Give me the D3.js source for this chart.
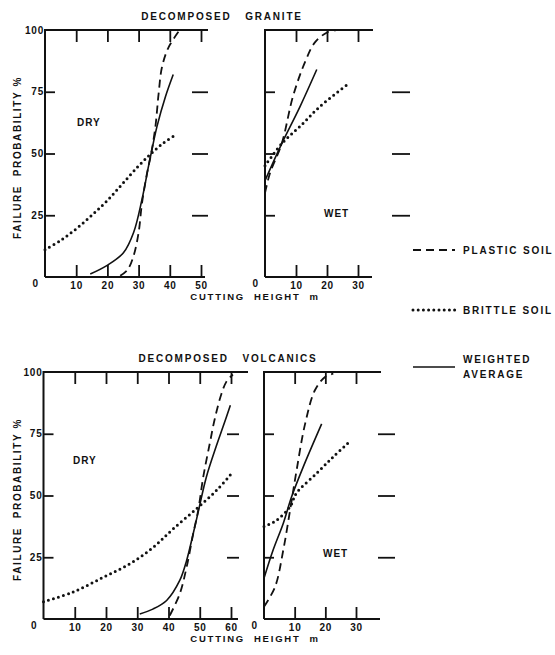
<!DOCTYPE html>
<html>
<head>
<meta charset="utf-8">
<script src="https://cdn.jsdelivr.net/npm/d3@7"></script>
<style>
    body { margin: 0; background: #fff; }
    text { font-family: 'Liberation Sans', Arial, sans-serif; font-weight: bold; fill: #111; }
</style>
</head>
<body>
<div id="chart"></div>
<script>
const width = 555;
const height = 655;
const ink = '#111';

// readings: [cutting height m, failure probability %]
const graniteDryPlastic = [[24.1, 0.5], [26.5, 3], [28.4, 8.6], [30, 18], [31.1, 30], [32.7, 42], [34.1, 50.5], [35.4, 61], [36.4, 74], [37.5, 85], [39.6, 93], [42.9, 99.5]];
const graniteDryBrittle = [[0, 11], [5, 14.8], [10, 19.5], [15, 25], [20, 31], [25, 38], [30, 45], [34, 50], [38, 54.3], [42, 57.7]];
const graniteDryWeighted = [[14.5, 1.2], [19.8, 4.6], [25.2, 9.9], [28.4, 18], [31.1, 31.5], [33.2, 45], [34.1, 50.5], [35.9, 61], [38.6, 73], [41.1, 82]];

const graniteWetPlastic = [[0, 34], [1.6, 42], [5.4, 54], [9, 73], [12.9, 87], [16.1, 95], [20, 99], [23, 100]];
const graniteWetBrittle = [[0, 45], [5.4, 54], [11.3, 61], [17.7, 69], [26.7, 78]];
const graniteWetWeighted = [[0, 39], [5.4, 54], [11.3, 69], [16.7, 84]];

const volcanicsDryPlastic = [[40.4, 1.4], [43.6, 10.2], [45.8, 21], [47.9, 34.5], [49.5, 44], [51.1, 57.4], [53.2, 71], [54.8, 81], [56.9, 91], [58.5, 96], [60.6, 99]];
const volcanicsDryBrittle = [[0, 7], [9.5, 10.9], [19.1, 16.9], [27.6, 22.3], [35.1, 29], [41.5, 36.5], [48.9, 44.6], [55.3, 52], [60.1, 58.8]];
const volcanicsDryWeighted = [[30.8, 2], [35, 4], [39.4, 7.5], [43.6, 15.6], [45.8, 23.7], [47.9, 34.5], [49.8, 45], [52.1, 57.4], [55.3, 70], [57.5, 78], [59.8, 86.5]];

const volcanicsWetPlastic = [[0, 5], [3.6, 13], [6.3, 28], [8.5, 44], [10.6, 60], [13.4, 79], [16.6, 92.6], [19.9, 98], [22.6, 99.3]];
const volcanicsWetBrittle = [[0, 37.4], [4.1, 40], [8.5, 45.5], [10.6, 51], [17.2, 59], [22.6, 65.7], [27.8, 71.7]];
const volcanicsWetWeighted = [[0, 16.5], [3, 28], [6.3, 38.8], [9, 49.5], [12.8, 61.6], [18.8, 79]];

const probTicks = [25, 50, 75];
const probLabels = [25, 50, 75, 100];
const graniteDryTicks = [10, 20, 30, 40, 50];
const volcanicsDryTicks = [10, 20, 30, 40, 50, 60];
const wetTicks = [10, 20, 30];

const rows = [
    { title: 'DECOMPOSED   GRANITE', top: 30, bottom: 277, titleX: 222 },
    { title: 'DECOMPOSED   VOLCANICS', top: 372, bottom: 619, titleX: 228 },
];

const panels = [
    { row: 0, max: 50, x0: 45, x1: 201, topEnd: 208, bottomEnd: 205, ticks: graniteDryTicks, labels: true,
      side: [192, 208], tag: 'DRY', tagX: 77, tagY: 126,
      plastic: graniteDryPlastic, brittle: graniteDryBrittle, weighted: graniteDryWeighted },
    { row: 0, max: 30, x0: 265, x1: 358, topEnd: 373, bottomEnd: 372, ticks: wetTicks, labels: false,
      side: [392, 410], tag: 'WET', tagX: 324, tagY: 217,
      plastic: graniteWetPlastic, brittle: graniteWetBrittle, weighted: graniteWetWeighted },
    { row: 1, max: 60, x0: 43.5, x1: 231, topEnd: 248, bottomEnd: 238, ticks: volcanicsDryTicks, labels: true,
      side: [227, 239], tag: 'DRY', tagX: 73, tagY: 464,
      plastic: volcanicsDryPlastic, brittle: volcanicsDryBrittle, weighted: volcanicsDryWeighted },
    { row: 1, max: 30, x0: 264, x1: 356, topEnd: 381, bottomEnd: 380, ticks: wetTicks, labels: false,
      side: [378, 395], tag: 'WET', tagX: 323, tagY: 557,
      plastic: volcanicsWetPlastic, brittle: volcanicsWetBrittle, weighted: volcanicsWetWeighted },
];

const styles = {
    plastic: { width: 1.8, dash: '8,5', cap: 'butt' },
    brittle: { width: 3, dash: '0,5.2', cap: 'round' },
    weighted: { width: 1.6, dash: null, cap: 'butt' },
};

const svg = d3
    .select('#chart')
    .append('svg')
    .attr('width', width)
    .attr('height', height)
    .style('background-color', 'white');

rows.forEach((row) => {
    svg.append('text')
        .attr('x', row.titleX)
        .attr('y', row.top - 10)
        .attr('text-anchor', 'middle')
        .attr('font-size', '10px')
        .style('letter-spacing', '1.8px')
        .style('white-space', 'pre')
        .text(row.title);

    svg.append('text')
        .attr('x', 255)
        .attr('y', row.bottom + 23)
        .attr('text-anchor', 'middle')
        .attr('font-size', '9.5px')
        .style('letter-spacing', '1.8px')
        .style('white-space', 'pre')
        .text('CUTTING  HEIGHT  m');

    svg.append('text')
        .attr('transform', `translate(21, ${(row.top + row.bottom) / 2 + 4}) rotate(-90)`)
        .attr('text-anchor', 'middle')
        .attr('font-size', '10px')
        .style('letter-spacing', '1.6px')
        .style('white-space', 'pre')
        .text('FAILURE  PROBABILITY %');
});

panels.forEach((p) => {
    const row = rows[p.row];
    const x = d3.scaleLinear().domain([0, p.max]).range([p.x0, p.x1]);
    const y = d3.scaleLinear().domain([0, 100]).range([row.bottom, row.top]);
    const g = svg.append('g');

    // frame: left axis, top and bottom lines
    g.append('path')
        .attr('d', `M${x(0)},${y(0)}V${y(100)}H${p.topEnd}M${x(0)},${y(0)}H${p.bottomEnd}`)
        .attr('fill', 'none')
        .attr('stroke', ink)
        .attr('stroke-width', 2);

    g.append('g')
        .attr('transform', `translate(0, ${y(0)})`)
        .call(
            d3.axisBottom(x)
                .tickValues(p.ticks)
                .tickSize(-12)
                .tickPadding(5)
                .tickFormat(d3.format('d'))
        );

    g.append('g')
        .attr('transform', `translate(0, ${y(100)})`)
        .call(d3.axisTop(x).tickValues(p.ticks).tickSize(-12).tickFormat(''));

    g.append('g')
        .attr('transform', `translate(${x(0)}, 0)`)
        .call(d3.axisLeft(y).tickValues(probTicks).tickSize(-10).tickFormat(''));

    if (p.labels) {
        g.append('g')
            .attr('transform', `translate(${x(0)}, 0)`)
            .call(d3.axisLeft(y).tickValues(probLabels).tickSize(0).tickPadding(1));
    }

    // floating ticks to the right of the panel
    g.append('g')
        .attr('transform', `translate(${p.side[1]}, 0)`)
        .call(d3.axisRight(y).tickValues(probTicks).tickSize(-(p.side[1] - p.side[0])).tickFormat(''));

    g.selectAll('.domain').remove();
    g.selectAll('.tick line').attr('stroke', ink).attr('stroke-width', 1.8);
    g.selectAll('.tick text')
        .attr('font-family', "'Liberation Sans', Arial, sans-serif")
        .attr('font-size', '10px')
        .attr('font-weight', 'bold')
        .attr('fill', ink)
        .style('letter-spacing', '0.8px');

    g.append('text')
        .attr('x', x(0) - 7)
        .attr('y', y(0) + 10)
        .attr('text-anchor', 'end')
        .attr('font-size', '10px')
        .text('0');

    g.append('text')
        .attr('x', p.tagX)
        .attr('y', p.tagY)
        .attr('font-size', '10px')
        .style('letter-spacing', '1px')
        .text(p.tag);

    const line = d3.line()
        .x((d) => x(d[0]))
        .y((d) => y(d[1]))
        .curve(d3.curveCatmullRom.alpha(0.5));

    ['plastic', 'brittle', 'weighted'].forEach((key) => {
        const s = styles[key];
        g.append('path')
            .datum(p[key])
            .attr('d', line)
            .attr('fill', 'none')
            .attr('stroke', ink)
            .attr('stroke-width', s.width)
            .attr('stroke-linecap', s.cap)
            .attr('stroke-dasharray', s.dash);
    });
});

// legend
const legendItems = [
    { key: 'plastic', lines: ['PLASTIC SOIL'], y: 250 },
    { key: 'brittle', lines: ['BRITTLE SOIL'], y: 310 },
    { key: 'weighted', lines: ['WEIGHTED', 'AVERAGE'], y: 367 },
];

const legend = svg.append('g');
legendItems.forEach((item) => {
    const s = styles[item.key];
    legend.append('line')
        .attr('x1', 413)
        .attr('x2', 455)
        .attr('y1', item.y)
        .attr('y2', item.y)
        .attr('stroke', ink)
        .attr('stroke-width', s.width)
        .attr('stroke-linecap', s.cap)
        .attr('stroke-dasharray', s.dash);

    const t = legend.append('text')
        .attr('x', 463)
        .attr('y', item.lines.length > 1 ? item.y - 4 : item.y + 4)
        .attr('font-size', '10px')
        .style('letter-spacing', '1.8px');
    item.lines.forEach((l, i) => {
        t.append('tspan').attr('x', 463).attr('dy', i === 0 ? 0 : 15).text(l);
    });
});
</script>
</body>
</html>
